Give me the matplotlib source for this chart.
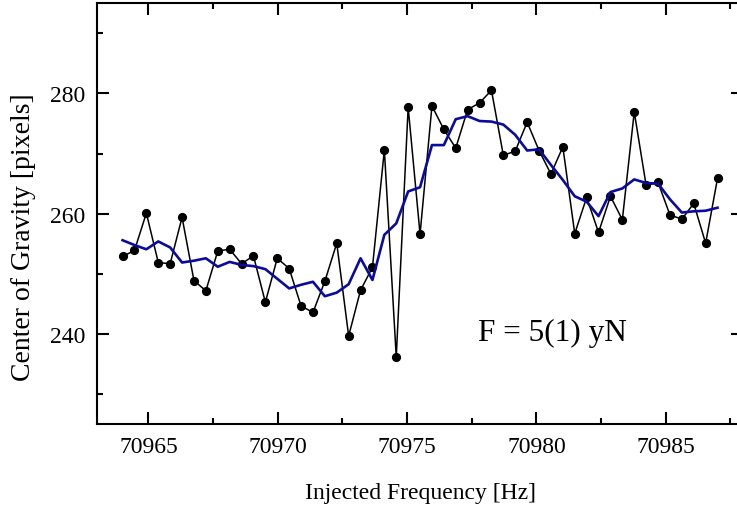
import matplotlib
matplotlib.use("Agg")
import matplotlib.pyplot as plt
import numpy as np
from matplotlib.ticker import MultipleLocator

plt.rcParams['font.family'] = ['Liberation Serif', 'DejaVu Serif']

# frequency scan, 51 steps from 70964 to 70987 Hz
freq_start = 70964.0
freq_stop = 70987.0
n_points = 51

# measured centre of gravity (black dots)
cog = [252.9, 253.9, 260.1, 251.9, 251.7, 259.4, 248.9, 247.2, 253.8, 254.1,
       251.7, 253.0, 245.3, 252.6, 250.9, 244.7, 243.6, 248.8, 255.1, 239.7,
       247.3, 251.1, 270.6, 236.2, 277.7, 256.6, 277.9, 274.0, 270.9, 277.3,
       278.4, 280.5, 269.7, 270.4, 275.2, 270.5, 266.6, 271.1, 256.7, 262.7,
       256.9, 262.9, 259.0, 276.9, 264.7, 265.2, 259.8, 259.1, 261.7, 255.1,
       265.9]

# smoothed curve (blue)
cog_smooth = [255.6, 254.8, 254.1, 255.4, 254.4, 251.9, 252.2, 252.6, 251.2, 252.0,
              251.5, 251.3, 250.8, 249.2, 247.6, 248.2, 248.7, 246.3, 246.9, 248.3,
              252.6, 249.0, 256.5, 258.4, 263.7, 264.4, 271.4, 271.4, 275.7, 276.2,
              275.4, 275.3, 274.8, 273.1, 270.5, 270.7, 268.1, 265.6, 262.9, 262.0,
              259.6, 263.6, 264.2, 265.7, 265.1, 265.0, 262.4, 260.2, 260.4, 260.5,
              261.0]

freq = np.linspace(freq_start, freq_stop, n_points)

fig = plt.figure(figsize=(7.37, 5.10), dpi=100)
ax = fig.add_axes([0.1312, 0.1657, 0.8775, 0.8265])

ax.plot(freq, cog, color='black', lw=1.1, marker='o', ms=5.6, zorder=2)
ax.plot(freq, cog_smooth, color='#0a0aa0', lw=1.9, zorder=3)

ax.set_xlim(70963.0, 70988.0)
ax.set_ylim(225, 295)
ax.xaxis.set_major_locator(MultipleLocator(5))
ax.xaxis.set_minor_locator(MultipleLocator(2.5))
ax.yaxis.set_major_locator(MultipleLocator(20))
ax.yaxis.set_minor_locator(MultipleLocator(10))
ax.ticklabel_format(useOffset=False, style='plain', axis='x')

ax.tick_params(which='both', direction='in', top=True, right=True, width=1.5,
               labelsize=17, pad=8)
ax.tick_params(which='major', length=8.4)
ax.tick_params(which='minor', length=4.3)
for sp in ax.spines.values():
    sp.set_linewidth(1.5)

ax.set_xlabel('Injected Frequency [Hz]', fontsize=17, labelpad=18)
ax.set_ylabel('Center of Gravity [pixels]', fontsize=20, va='center')
ax.yaxis.set_label_coords(-0.113, 0.446)

ax.text(70977.73, 239.0, 'F = 5(1) yN', fontsize=22.5, ha='left', va='baseline')

fig.savefig('out.png', dpi=100)
